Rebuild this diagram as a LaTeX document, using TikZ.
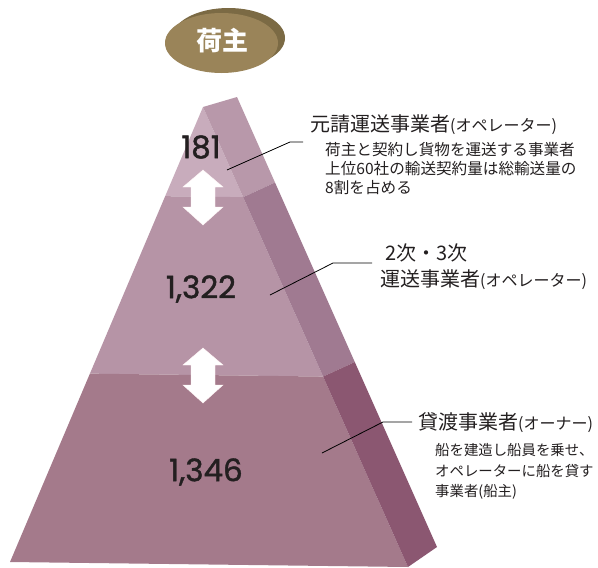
\documentclass[tikz,border=0pt]{standalone}
\usepackage{fontspec}
\newfontfamily\jp{Noto Sans CJK JP}
\newfontfamily\numf{Poppins}[FakeBold=1.3]
\usetikzlibrary{calc}
\definecolor{topF}{HTML}{C8ACBC}
\definecolor{topS}{HTML}{B898AA}
\definecolor{midF}{HTML}{B694A6}
\definecolor{midS}{HTML}{A07A91}
\definecolor{botF}{HTML}{A47A8B}
\definecolor{botS}{HTML}{8B5771}
\definecolor{ellF}{HTML}{9A8459}
\definecolor{ellB}{HTML}{7B6A44}
\definecolor{numc}{HTML}{231F20}
\definecolor{txtc}{HTML}{231F20}
\tikzset{
  numlabel/.style={inner sep=0pt, text=numc, font=\numf\fontsize{31}{31}\selectfont},
  titlelabel/.style={inner sep=0pt, anchor=west, text=txtc, font=\jp\fontsize{20}{20}\selectfont},
  sublabel/.style={inner sep=0pt, anchor=west, text=txtc, font=\jp\fontsize{15.6}{15.6}\selectfont},
  subthree/.style={sublabel, font=\jp\fontsize{14.4}{14.4}\selectfont},
  leader/.style={draw=black, line width=0.8pt},
  dblarrow/.style={fill=white, draw=white!85!pink, line width=0.4pt}
}
\newcommand{\sm}[1]{{\fontsize{16}{16}\selectfont #1}}
\newcommand{\smb}[1]{{\fontsize{14.4}{14.4}\selectfont #1}}
\begin{document}
\begin{tikzpicture}[x=1pt,y=-1pt]
\useasboundingbox (0,0) rectangle (598,568);
% pyramid points
\coordinate (A) at (203,107);
\coordinate (B) at (237,97);
\coordinate (BL) at (10,562);
\coordinate (BR) at (408,567);
\coordinate (SR) at (437,547);
\coordinate (L1a) at ($(A)!0.196!(BL)$);
\coordinate (L1b) at ($(A)!0.196!(BR)$);
\coordinate (L1c) at ($(B)!0.19!(SR)$);
\coordinate (L2a) at ($(A)!0.586!(BL)$);
\coordinate (L2b) at ($(A)!0.586!(BR)$);
\coordinate (L2c) at ($(B)!0.589!(SR)$);
% faces
\fill[topF] (A) -- (L1b) -- (L1a) -- cycle;
\fill[topS] (A) -- (B) -- (L1c) -- (L1b) -- cycle;
\fill[midF] (L1a) -- (L1b) -- (L2b) -- (L2a) -- cycle;
\fill[midS] (L1b) -- (L1c) -- (L2c) -- (L2b) -- cycle;
\fill[botF] (L2a) -- (L2b) -- (BR) -- (BL) -- cycle;
\fill[botS] (L2b) -- (L2c) -- (SR) -- (BR) -- cycle;
% 荷主 ellipse
\fill[ellB] (228.5,38) ellipse [x radius=56.5, y radius=30];
\fill[ellF] (221.5,43) ellipse [x radius=56.5, y radius=30];
\node[inner sep=0pt, text=white, font=\jp\bfseries\fontsize{26}{26}\selectfont] (shipper) at (222,41) {荷主};
% double arrows
\foreach \t/\nm in {170/arrA, 348/arrB}{
  \draw[dblarrow] (203,\t) -- (223,\t+17) -- (215,\t+17) -- (215,\t+37) -- (223,\t+37)
    -- (203,\t+55) -- (183,\t+37) -- (191,\t+37) -- (191,\t+17) -- (183,\t+17) -- cycle;
}
% numbers
\node[numlabel] (n1) at (201,147) {181};
\node[numlabel] (n2) at (201,289) {1,322};
\node[numlabel] (n3) at (206,472) {1,346};
% labels
\node[titlelabel] (t1) at (310,125) {元請運送事業者\sm{(オペレーター)}};
\node[sublabel] (s1a) at (325,150) {荷主と契約し貨物を運送する事業者};
\node[sublabel] (s1b) at (325,169) {上位60社の輸送契約量は総輸送量の};
\node[sublabel] (s1c) at (325,188) {8割を占める};
\node[titlelabel] (t2a) at (385,253) {2次・3次};
\node[titlelabel] (t2b) at (380,280) {運送事業者\sm{(オペレーター)}};
\node[titlelabel] (t3) at (418,423) {貸渡事業者\sm{(オーナー)}};
\node[subthree] (s3a) at (435,450) {船を建造し船員を乗せ、};
\node[subthree] (s3b) at (435,471) {オペレーターに船を貸す};
\node[subthree] (s3c) at (435,492) {事業者\smb{(船主)}};
% leader lines
\coordinate (p1) at (227,170); \coordinate (q1) at (290,142); \coordinate (r1) at (303,142);
\coordinate (p2) at (270,295); \coordinate (q2) at (333,263); \coordinate (r2) at (372,263);
\coordinate (p3) at (322,453); \coordinate (q3) at (383,422); \coordinate (r3) at (412,422);
\draw[leader] (p1) -- (q1) -- (r1);
\draw[leader] (p2) -- (q2) -- (r2);
\draw[leader] (p3) -- (q3) -- (r3);
\end{tikzpicture}
\end{document}
